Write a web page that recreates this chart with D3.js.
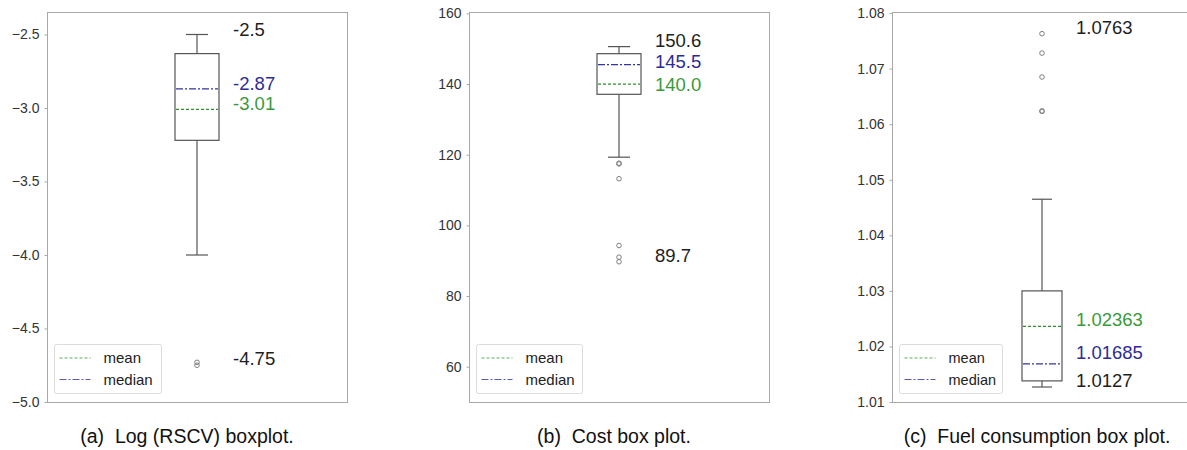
<!DOCTYPE html>
<html>
<head>
<meta charset="utf-8">
<script src="https://cdn.jsdelivr.net/npm/d3@7"></script>
<style>
  html, body { margin: 0; padding: 0; background: #fff; }
  svg { display: block; font-family: "Liberation Sans", Arial, Helvetica, sans-serif; }
</style>
</head>
<body>
<svg id="chart" width="1187" height="450"></svg>
<script>
// ---------------- data ----------------
const captions = ["(a)  Log (RSCV) boxplot.", "(b)  Cost box plot.", "(c)  Fuel consumption box plot."];
const categories = ["Log (RSCV)", "Cost", "Fuel consumption"];

const yDomains = [[-5.0, -2.347], [50, 160.4], [1.01, 1.0802]];
const yTicksA = [-5.0, -4.5, -4.0, -3.5, -3.0, -2.5];
const yTicksB = [60, 80, 100, 120, 140, 160];
const yTicksC = [1.01, 1.02, 1.03, 1.04, 1.05, 1.06, 1.07, 1.08];
const tickFormats = [".1f", "d", ".2f"];

const q1 = [-3.22, 137.1, 1.0138];
const q3 = [-2.63, 148.6, 1.0300];
const medians = [-2.87, 145.5, 1.01685];
const means = [-3.01, 140.0, 1.02363];
const whiskerLow = [-4.0, 119.3, 1.0127];
const whiskerHigh = [-2.5, 150.6, 1.0465];
const outliersA = [-4.73, -4.75];
const outliersB = [117.6, 117.4, 113.2, 94.3, 91.0, 89.7];
const outliersC = [1.0763, 1.0728, 1.0685, 1.0624, 1.0623];

// annotation labels: [text, value, kind]
const labelsA = [["-2.5", -2.5, "ext"], ["-2.87", -2.87, "median"], ["-3.01", -3.01, "mean"], ["-4.75", -4.75, "ext"]];
const labelsB = [["150.6", 150.6, "ext"], ["145.5", 145.5, "median"], ["140.0", 140.0, "mean"], ["89.7", 89.7, "ext"]];
const labelsC = [["1.0763", 1.0763, "ext"], ["1.02363", 1.02363, "mean"], ["1.01685", 1.01685, "median"], ["1.0127", 1.0127, "ext"]];
const legendItems = ["mean", "median"];

// ---------------- layout / style ----------------
const yTicks = [yTicksA, yTicksB, yTicksC];
const outliers = [outliersA, outliersB, outliersC];
const labels = [labelsA, labelsB, labelsC];
const labelNudge = [[1.5, 1, 1, 0], [0, 3.5, 7, 0], [0, 0, -5, 0]];
const frameLeft = [47, 469, 892];
const frameW = 300, frameTop = 12, frameBottom = 402;
const boxW = [44, 44, 40];
const legendW = [107, 106, 103];
const legendFont = [15, 15, 14.5];
const captionX = [187, 614, 1037];

const colors = {
  ext: "#1e1e1e",
  median: "#2c2c96",
  mean: "#3a9a3a",
  medianLine: "#34349e",
  meanLine: "#2f8f2f",
  box: "#555",
  frame: "#a8a8a8",
  flier: "#808080"
};
const dash = { mean: "3,2", median: "7,2,2,2" };

const svg = d3.select("#chart");

for (let i = 0; i < 3; i++) {
  const left = frameLeft[i];
  const y = d3.scaleLinear().domain(yDomains[i]).range([frameBottom, frameTop]);
  const x = d3.scaleBand().domain([categories[i]]).range([left, left + frameW]);
  const cx = x(categories[i]) + x.bandwidth() / 2;
  const g = svg.append("g");

  // frame
  g.append("rect")
    .attr("x", left + 0.5).attr("y", frameTop + 0.5)
    .attr("width", frameW).attr("height", frameBottom - frameTop)
    .attr("fill", "none").attr("stroke", colors.frame).attr("stroke-width", 1);

  // y axis
  const fmt = d3.format(tickFormats[i]);
  const axis = d3.axisLeft(y).tickValues(yTicks[i]).tickFormat(fmt).tickSize(3).tickPadding(5);
  const ag = g.append("g").attr("transform", `translate(${left + 0.5},0)`).call(axis);
  ag.select(".domain").remove();
  ag.selectAll(".tick line").attr("stroke", colors.frame);
  ag.selectAll(".tick text")
    .attr("fill", "#333").style("font-size", "14px")
    .style("font-family", "'Liberation Sans', Arial, sans-serif");

  const bw = boxW[i];
  // whiskers
  const stroke = colors.box;
  g.append("line").attr("x1", cx).attr("x2", cx).attr("y1", y(whiskerHigh[i])).attr("y2", y(q3[i]))
    .attr("stroke", stroke).attr("stroke-width", 1.2);
  g.append("line").attr("x1", cx).attr("x2", cx).attr("y1", y(q1[i])).attr("y2", y(whiskerLow[i]))
    .attr("stroke", stroke).attr("stroke-width", 1.2);
  [whiskerHigh[i], whiskerLow[i]].forEach(v => {
    g.append("line").attr("x1", cx - bw / 4).attr("x2", cx + bw / 4).attr("y1", y(v)).attr("y2", y(v))
      .attr("stroke", stroke).attr("stroke-width", 1.2);
  });
  // box
  g.append("rect").attr("x", cx - bw / 2).attr("y", y(q3[i]))
    .attr("width", bw).attr("height", y(q1[i]) - y(q3[i]))
    .attr("fill", "#fff").attr("stroke", stroke).attr("stroke-width", 1.2);
  // median & mean lines
  g.append("line").attr("x1", cx - bw / 2 + 1).attr("x2", cx + bw / 2 - 1)
    .attr("y1", y(medians[i])).attr("y2", y(medians[i]))
    .attr("stroke", colors.medianLine).attr("stroke-width", 1.3).attr("stroke-dasharray", dash.median);
  g.append("line").attr("x1", cx - bw / 2 + 1).attr("x2", cx + bw / 2 - 1)
    .attr("y1", y(means[i])).attr("y2", y(means[i]))
    .attr("stroke", colors.meanLine).attr("stroke-width", 1.3).attr("stroke-dasharray", dash.mean);
  // fliers
  g.selectAll("circle.flier").data(outliers[i]).enter().append("circle")
    .attr("class", "flier").attr("cx", cx).attr("cy", d => y(d)).attr("r", 2.3)
    .attr("fill", "none").attr("stroke", colors.flier).attr("stroke-width", 1);

  // annotation labels
  g.selectAll("text.ann").data(labels[i]).enter().append("text")
    .attr("class", "ann")
    .attr("x", cx + bw / 2 + 14)
    .attr("y", (d, j) => y(d[1]) + labelNudge[i][j])
    .attr("fill", d => colors[d[2]])
    .style("font-size", "18.5px")
    .text(d => d[0]);

  // legend
  const lx = left + 7.5, ly = frameBottom - 57.5;
  const lg = g.append("g");
  lg.append("rect").attr("x", lx).attr("y", ly).attr("width", legendW[i]).attr("height", 49)
    .attr("rx", 2).attr("fill", "#fff").attr("stroke", "#dcdcdc").attr("stroke-width", 1);
  legendItems.forEach((name, j) => {
    const ry = ly + 13.5 + j * 21.5;
    lg.append("line").attr("x1", lx + 5).attr("x2", lx + 36).attr("y1", ry).attr("y2", ry)
      .attr("stroke", name === "mean" ? "#55b055" : "#5a5ab0").attr("stroke-width", 1.2)
      .attr("stroke-dasharray", dash[name]);
    lg.append("text").attr("x", lx + 49).attr("y", ry).attr("dy", "0.35em")
      .attr("fill", "#222").style("font-size", legendFont[i] + "px").text(name);
  });

  // caption
  svg.append("text").attr("x", captionX[i]).attr("y", 443).attr("text-anchor", "middle")
    .attr("fill", "#111").style("font-size", "19.5px").style("white-space", "pre")
    .attr("xml:space", "preserve")
    .text(captions[i]);
}
</script>
</body>
</html>
